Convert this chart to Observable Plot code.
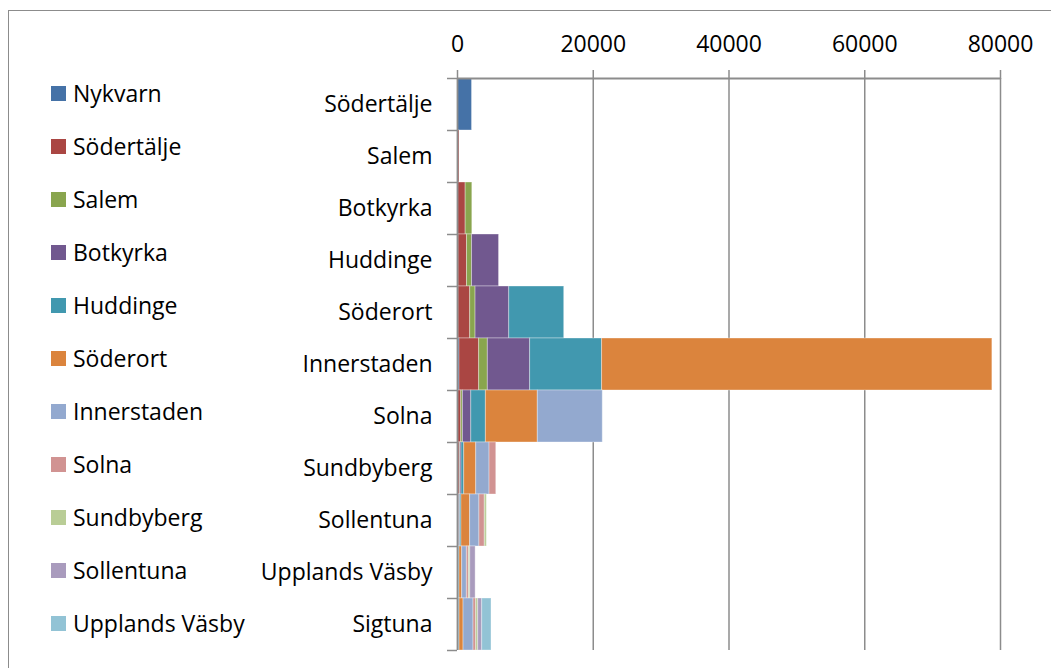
<!DOCTYPE html>
<html>
<head>
<meta charset="utf-8">
<script src="https://cdn.jsdelivr.net/npm/d3@7"></script>
<script src="https://cdn.jsdelivr.net/npm/@observablehq/plot@0.6"></script>
<style>
  html, body { margin: 0; padding: 0; background: #fff; }
  #wrap { position: relative; width: 1051px; height: 668px; overflow: hidden; font-family: "Open Sans", sans-serif; }
  #frame { position: absolute; left: 8px; top: 10px; width: 1100px; height: 700px; border-top: 1.5px solid #8c8c8c; border-left: 1.5px solid #8c8c8c; }
  #chart { position: absolute; left: 0; top: 0; }
  .leg { position: absolute; left: 51px; display: flex; align-items: center; font-size: 23px; color: #000; white-space: nowrap; }
  .leg .sw { width: 15px; height: 15px; margin-right: 7px; }
</style>
</head>
<body>
<div id="wrap">
  <div id="frame"></div>
  <div id="chart"></div>
  <div id="legend"></div>
</div>
<script>
const categories = ["Södertälje","Salem","Botkyrka","Huddinge","Söderort","Innerstaden","Solna","Sundbyberg","Sollentuna","Upplands Väsby","Sigtuna"];
const seriesNames = ["Nykvarn","Södertälje","Salem","Botkyrka","Huddinge","Söderort","Innerstaden","Solna","Sundbyberg","Sollentuna","Upplands Väsby"];
const colors = ["#4572A7","#AA4643","#89A54E","#71588F","#4198AF","#DB843D","#93A9CF","#D19392","#B9CD96","#A99BBD","#92C3D5"];

const nykvarn       = [2140, 30, 100, 150, 150, 290, 100, 60, 40, 20, 30];
const sodertalje    = [0, 250, 1100, 1250, 1720, 2900, 450, 250, 150, 80, 90];
const salem         = [0, 0, 980, 740, 790, 1280, 250, 80, 40, 20, 20];
const botkyrka      = [0, 0, 0, 3980, 4960, 6230, 1230, 200, 150, 60, 60];
const huddinge      = [0, 0, 0, 0, 8100, 10600, 2150, 400, 200, 110, 100];
const soderort      = [0, 0, 0, 0, 0, 57500, 7650, 1770, 1280, 400, 590];
const innerstaden   = [0, 0, 0, 0, 0, 0, 9570, 1960, 1370, 690, 1470];
const solna         = [0, 0, 0, 0, 0, 0, 0, 990, 790, 300, 390];
const sundbyberg    = [0, 0, 0, 0, 0, 0, 0, 0, 300, 200, 300];
const sollentuna    = [0, 0, 0, 0, 0, 0, 0, 0, 0, 790, 590];
const upplandsVasby = [0, 0, 0, 0, 0, 0, 0, 0, 0, 0, 1370];

const xTicks = [0, 20000, 40000, 60000, 80000];

const seriesValues = [nykvarn, sodertalje, salem, botkyrka, huddinge, soderort, innerstaden, solna, sundbyberg, sollentuna, upplandsVasby];

// build stacked rows
const rows = [];
categories.forEach((cat, i) => {
  let acc = 0;
  seriesNames.forEach((s, k) => {
    const v = seriesValues[k][i];
    if (v > 0) rows.push({cat, i, series: s, x1: acc, x2: acc + v});
    acc += v;
  });
});

const boundaries = d3.range(categories.length + 1);
const centers = categories.map((c, i) => i + 0.5);

const plot = Plot.plot({
  width: 1051,
  height: 668,
  marginLeft: 457,
  marginRight: 51,
  marginTop: 78,
  marginBottom: 18,
  style: {fontFamily: "'Open Sans', sans-serif", fontSize: "23px", color: "#000", background: "transparent", overflow: "visible"},
  x: {domain: [0, 80000], label: null},
  y: {domain: [0, categories.length], reverse: true, label: null},
  color: {domain: seriesNames, range: colors},
  marks: [
    Plot.ruleX(xTicks.slice(1), {stroke: "#8c8c8c", strokeWidth: 1.5}),
    Plot.rect(rows, {x1: "x1", x2: "x2", y1: "i", y2: d => d.i + 1, fill: "series", stroke: "#ffffff", strokeOpacity: 0.35, strokeWidth: 1}),
    Plot.ruleX([0], {stroke: "#8c8c8c", strokeWidth: 1.8}),
    Plot.ruleY([0], {stroke: "#8c8c8c", strokeWidth: 1.8}),
    Plot.axisX(xTicks, {anchor: "top", label: null, tickSize: 9, tickPadding: 18, tickFormat: d3.format("d"), stroke: "#8c8c8c", strokeWidth: 1.5, fontSize: 23, fill: "#000"}),
    Plot.axisY(boundaries, {anchor: "left", label: null, tickSize: 10, tickFormat: () => "", stroke: "#8c8c8c", strokeWidth: 1.5}),
    Plot.axisY(centers, {anchor: "left", label: null, tickSize: 0, tickPadding: 25, tickFormat: d => categories[Math.floor(d)], fontSize: 23, fill: "#000"})
  ]
});
document.getElementById("chart").appendChild(plot);

// legend
const legend = document.getElementById("legend");
seriesNames.forEach((s, k) => {
  const item = document.createElement("div");
  item.className = "leg";
  item.style.top = (93 + 53 * k - 16) + "px";
  item.style.height = "32px";
  const sw = document.createElement("span");
  sw.className = "sw";
  sw.style.background = colors[k];
  const t = document.createElement("span");
  t.textContent = s;
  item.appendChild(sw);
  item.appendChild(t);
  legend.appendChild(item);
});
</script>
</body>
</html>
